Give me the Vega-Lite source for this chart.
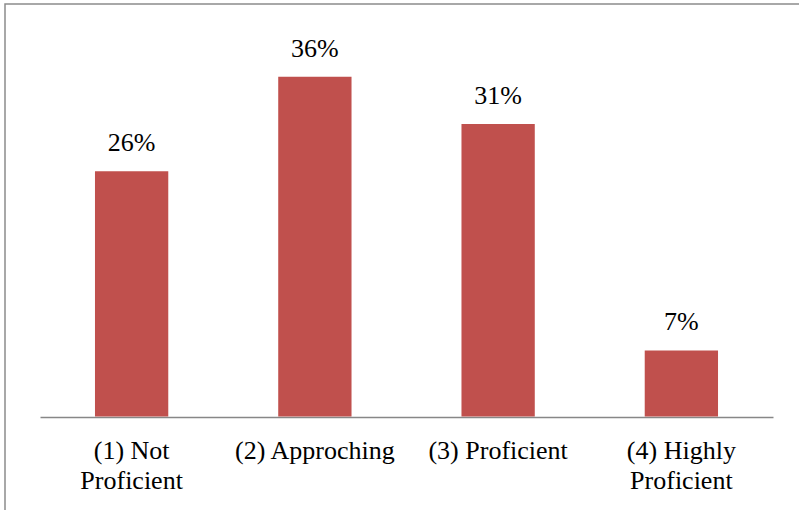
{
  "$schema": "https://vega.github.io/schema/vega-lite/v6.json",
  "autosize": {"type": "none"},
  "padding": {"left": 5, "top": 4, "right": 0, "bottom": 0},
  "width": 795,
  "height": 507,
  "background": "white",
  "config": {
    "view": {"stroke": "#8c8c8c", "strokeWidth": 1.5},
    "font": "'Liberation Serif', 'Times New Roman', serif"
  },
  "data": {
    "values": [
      {"level": "(1) Not Proficient", "share": 0.26},
      {"level": "(2) Approching", "share": 0.36},
      {"level": "(3) Proficient", "share": 0.31},
      {"level": "(4) Highly Proficient", "share": 0.07}
    ]
  },
  "encoding": {
    "x": {
      "field": "level",
      "type": "nominal",
      "sort": null,
      "scale": {"range": [35, 768], "paddingInner": 0.6, "paddingOuter": 0.3},
      "axis": {
        "title": null,
        "orient": "bottom",
        "offset": -94,
        "domainColor": "#878787",
        "domainWidth": 1.5,
        "ticks": false,
        "labelAngle": 0,
        "labelFont": "'Liberation Serif', 'Times New Roman', serif",
        "labelFontSize": 26,
        "labelColor": "#000000",
        "labelBaseline": "alphabetic",
        "labelPadding": 41,
        "labelLineHeight": 30,
        "labelLimit": 300,
        "labelExpr": "datum.value == '(1) Not Proficient' ? ['(1) Not', 'Proficient'] : datum.value == '(4) Highly Proficient' ? ['(4) Highly', 'Proficient'] : datum.value"
      }
    },
    "y": {
      "field": "share",
      "type": "quantitative",
      "scale": {"domain": [0, 0.4], "range": [412.5, 35], "nice": false, "zero": true},
      "axis": null
    }
  },
  "layer": [
    {"mark": {"type": "bar", "color": "#C0504D"}},
    {
      "mark": {"type": "text", "baseline": "alphabetic", "dy": -20, "font": "'Liberation Serif', 'Times New Roman', serif", "fontSize": 26, "color": "#000000"},
      "encoding": {"text": {"field": "share", "type": "quantitative", "format": ".0%"}}
    }
  ]
}
